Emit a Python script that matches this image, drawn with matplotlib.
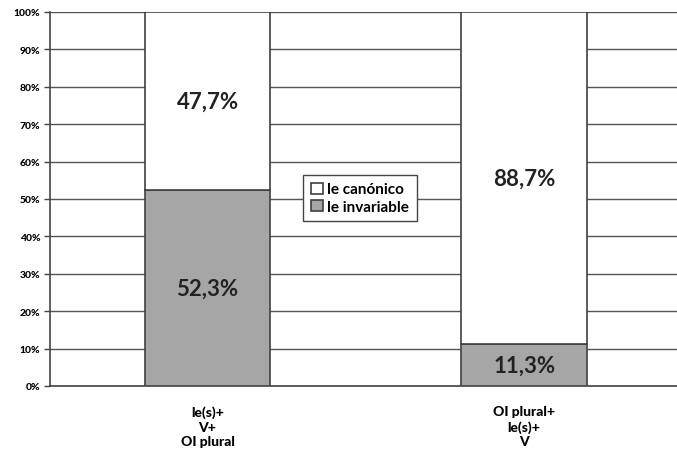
import matplotlib.pyplot as plt
import numpy as np

plt.rcParams['font.family'] = ['Lato', 'DejaVu Sans']

categories = ['le(s)+\nV+\nOI plural', 'OI plural+\nle(s)+\nV']
invariable = [52.3, 11.3]
canonico = [47.7, 88.7]
labels_inv = ['52,3%', '11,3%']
labels_can = ['47,7%', '88,7%']
yticks = np.arange(0, 101, 10)

fig = plt.figure(figsize=(6.77, 4.60), dpi=100)
ax = fig.add_axes([50/677, 1 - 387/460, 1 - 50/677, 374/460])

x = np.arange(len(categories))
w = 0.397
b1 = ax.bar(x, invariable, w, color='#a6a6a6', edgecolor='#404040', linewidth=1.2,
            label='le invariable', zorder=3)
b2 = ax.bar(x, canonico, w, bottom=invariable, color='white', edgecolor='#404040',
            linewidth=1.2, label='le canónico', zorder=3)

for i in range(len(categories)):
    ax.text(x[i], invariable[i] / 2, labels_inv[i], ha='center', va='center',
            fontsize=16, fontweight='bold', color='#222222', zorder=4)
    ax.text(x[i], invariable[i] + canonico[i] / 2, labels_can[i], ha='center', va='center',
            fontsize=16, fontweight='bold', color='#222222', zorder=4)

ax.set_xlim(-0.4976, 1.483)
ax.set_ylim(0, 100)
ax.set_yticks(yticks)
ax.set_yticklabels([f'{v}%' for v in yticks], fontsize=7.5, fontweight='black')
ax.yaxis.grid(True, color='#555555', linewidth=1.0, zorder=0)
ax.set_xticks(x)
ax.set_xticklabels(categories, fontsize=10, fontweight='black', linespacing=1.25)
ax.tick_params(axis='x', length=0, pad=14)
ax.tick_params(axis='y', length=4, width=1, color='#444444', pad=3)
for s in ['top', 'right']:
    ax.spines[s].set_visible(False)
ax.spines['left'].set_color('#444444')
ax.spines['bottom'].set_color('#444444')
ax.spines['left'].set_linewidth(1.2)
ax.spines['bottom'].set_linewidth(1.2)

leg = ax.legend(handles=[b2, b1], loc='center', bbox_to_anchor=((360 - 50) / 627, (387 - 199) / 374),
                prop={'weight': 'bold', 'size': 11}, frameon=True, fancybox=False,
                handlelength=0.75, handleheight=0.75, handletextpad=0.3, borderpad=0.5,
                labelspacing=0.2, edgecolor='#444444', framealpha=1)
leg.get_frame().set_linewidth(1.0)
leg.set_zorder(5)

fig.savefig('out.png', dpi=100)
